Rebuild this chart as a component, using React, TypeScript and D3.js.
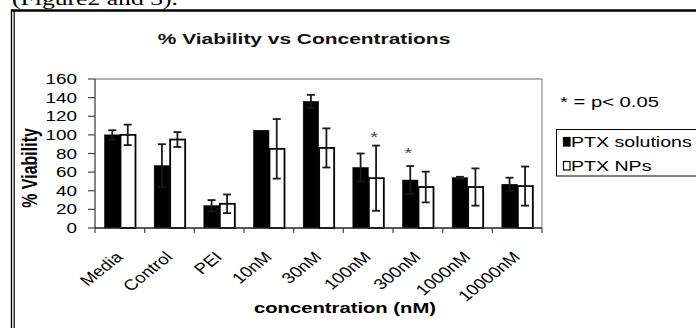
import React from "react";
import * as d3 from "d3";

const categories = ["Media", "Control", "PEI", "10nM", "30nM", "100nM", "300nM", "1000nM", "10000nM"];
const seriesNames = ["PTX solutions", "PTX NPs"];
const ptxSolution = [100, 67, 24, 105, 136, 65, 51.5, 54, 47];
const ptxSolutionErr = [5, 23, 6, 0, 7, 15, 15, 1, 7];
const ptxNP = [100, 95, 26, 85, 86, 53.5, 44, 44, 45];
const ptxNPErr = [11, 8, 10, 32, 21, 35, 16.5, 20, 21];
const yTicks = [0, 20, 40, 60, 80, 100, 120, 140, 160];
const starCategories = ["100nM", "300nM"];
const starSeries = ["PTX NPs", "PTX solutions"];
const starLevels = [102, 85];

const W = 696;
const H = 328;
const SX = 1.35;
const FONT = "'Liberation Sans', Arial, sans-serif";

export default function App() {
  const x0 = d3.scaleBand<string>().domain(categories).range([95, 542]).padding(0);
  const x1 = d3.scaleBand<string>().domain(seriesNames).range([9.5, 40.5]).padding(0);
  const y = d3.scaleLinear().domain([0, 160]).range([228, 79]);
  const bw = x1.bandwidth();

  const rows = categories.map((c, i) => ({
    c,
    vals: [
      { s: seriesNames[0], v: ptxSolution[i], e: ptxSolutionErr[i] },
      { s: seriesNames[1], v: ptxNP[i], e: ptxNPErr[i] },
    ],
  }));

  const boundaries = categories.map((c) => x0(c) as number).concat([x0.range()[1]]);

  return (
    <svg
      width={W}
      height={H}
      style={{ position: "absolute", left: 0, top: 0, background: "#fff" }}
      fontFamily={FONT}
    >
      <rect x={0} y={0} width={W} height={H} fill="#fff" />
      {/* cut-off document text */}
      <text
        transform={`translate(12,5) scale(${SX},1)`}
        fontFamily="'Liberation Serif', 'Times New Roman', serif"
        fontSize={19}
        fill="#000"
      >
        (Figure2 and 3).
      </text>
      {/* frame */}
      <line x1={11.5} x2={W} y1={10.5} y2={10.5} stroke="#000" strokeWidth={2.5} />
      <line x1={11.5} x2={11.5} y1={9.5} y2={H} stroke="#000" strokeWidth={1.4} />
      <line x1={14.2} x2={14.2} y1={11} y2={H} stroke="#000" strokeWidth={1.2} />

      {/* title */}
      <text
        transform={`translate(304,44) scale(${SX},1)`}
        textAnchor="middle"
        fontSize={15.5}
        fontWeight="bold"
        fill="#111"
      >
        % Viability vs Concentrations
      </text>

      {/* plot border top/right */}
      <line x1={95} x2={542} y1={79} y2={79} stroke="#999" strokeWidth={1.3} />
      <line x1={542} x2={542} y1={79} y2={228} stroke="#999" strokeWidth={1.3} />

      {/* y axis */}
      <line x1={95} x2={95} y1={79} y2={228} stroke="#444" strokeWidth={1.3} />
      {yTicks.map((t) => (
        <g key={t}>
          <line x1={88} x2={95} y1={y(t)} y2={y(t)} stroke="#444" strokeWidth={1.2} />
          <text
            transform={`translate(77,${y(t)}) scale(${SX},1)`}
            textAnchor="end"
            dy="0.36em"
            fontSize={14}
            fill="#000"
          >
            {t}
          </text>
        </g>
      ))}
      <text
        transform={`translate(37,168) scale(${SX},1) rotate(-90)`}
        textAnchor="middle"
        fontSize={16}
        fontWeight="bold"
        fill="#000"
      >
        % Viability
      </text>

      {/* bars */}
      {rows.map((r) => (
        <g key={r.c} transform={`translate(${x0(r.c)},0)`}>
          {r.vals.map((d, j) => (
            <rect
              key={d.s}
              x={(x1(d.s) as number) + (j === 1 ? 0.5 : 0)}
              y={y(d.v)}
              width={bw - (j === 1 ? 0.5 : 0)}
              height={y(0) - y(d.v)}
              fill={j === 0 ? "#000" : "#fff"}
              stroke="#000"
              strokeWidth={j === 0 ? 0.5 : 1.8}
            />
          ))}
          {r.vals.map((d) => {
            const cx = (x1(d.s) as number) + bw / 2;
            if (d.e <= 0) return null;
            return (
              <g key={d.s + "e"} stroke="#1a1a1a" strokeWidth={1.8}>
                <line x1={cx} x2={cx} y1={y(d.v + d.e)} y2={y(d.v - d.e)} />
                <line x1={cx - 4} x2={cx + 4} y1={y(d.v + d.e)} y2={y(d.v + d.e)} />
                <line x1={cx - 4} x2={cx + 4} y1={y(d.v - d.e)} y2={y(d.v - d.e)} />
              </g>
            );
          })}
        </g>
      ))}

      {/* stars */}
      {starCategories.map((c, i) => (
        <text
          key={c}
          transform={`translate(${(x0(c) as number) + (x1(starSeries[i]) as number) + bw / 2 - 2},${y(starLevels[i]) + 9}) scale(${SX},1)`}
          textAnchor="middle"
          fontSize={15}
          fill="#444"
        >
          *
        </text>
      ))}

      {/* x axis */}
      <line x1={95} x2={542} y1={228} y2={228} stroke="#222" strokeWidth={1.3} />
      {boundaries.map((b, i) => (
        <line key={i} x1={b} x2={b} y1={228} y2={233} stroke="#444" strokeWidth={1.2} />
      ))}
      {categories.map((c) => (
        <text
          key={c}
          transform={`translate(${(x0(c) as number) + x0.bandwidth() / 2 + 4},258) scale(1.25,1) rotate(-45)`}
          textAnchor="end"
          fontSize={15}
          fill="#000"
        >
          {c}
        </text>
      ))}
      <text
        transform={`translate(345,313) scale(${SX},1)`}
        textAnchor="middle"
        fontSize={15}
        fontWeight="bold"
        fill="#000"
      >
        concentration (nM)
      </text>

      {/* significance note */}
      <text transform={`translate(560,106.5) scale(${SX},1)`} fontSize={15} fill="#000">
        * = p&lt; 0.05
      </text>

      {/* legend */}
      <rect x={556.5} y={129.5} width={150} height={46.5} fill="#fff" stroke="#000" strokeWidth={1} />
      {seriesNames.map((s, i) => (
        <g key={s} transform={`translate(0,${i * 24})`}>
          <rect
            x={563.5}
            y={137.5}
            width={6.5}
            height={8.5}
            fill={i === 0 ? "#000" : "#fff"}
            stroke="#000"
            strokeWidth={1.2}
          />
          <text transform={`translate(571,147.3) scale(${SX},1)`} fontSize={14.5} fill="#000">
            {s}
          </text>
        </g>
      ))}
    </svg>
  );
}
